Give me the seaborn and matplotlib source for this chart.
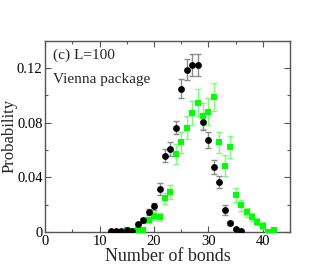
import numpy as np
import matplotlib
matplotlib.use('Agg')
import matplotlib.pyplot as plt
import seaborn as sns
from matplotlib.ticker import MultipleLocator

# %%
# Black circles
black_x = [12, 13, 14, 15, 16, 17, 18, 19, 20, 21, 22, 23, 24, 25, 26, 27, 28,
           29, 30, 31, 32, 33, 34, 35, 36]
black_p = [0.0005, 0.0005, 0.0005, 0.0012, 0.0005, 0.0056, 0.0083, 0.0145, 0.0188,
           0.0314, 0.0557, 0.0608, 0.0765, 0.105, 0.119, 0.1223, 0.1226,
           0.0808, 0.0672, 0.0476, 0.0365, 0.0163, 0.0064, 0.002, 0.0008]
black_err = [0.0003, 0.0003, 0.0003, 0.0005, 0.0003, 0.0012, 0.0015, 0.002, 0.0025,
             0.0042, 0.0047, 0.005, 0.0048, 0.0071, 0.008, 0.008, 0.008,
             0.006, 0.0057, 0.0054, 0.0044, 0.0037, 0.0012, 0.0006, 0.0004]

# Green squares
green_x = [15, 16, 17, 18, 19, 20, 21, 22, 23, 24, 25, 26, 27, 28, 29, 30, 31,
           32, 33, 34, 35, 36, 37, 38, 39, 40, 41, 42]
green_p = [0.0012, 0.0008, 0.0012, 0.0013, 0.0088, 0.0118, 0.0106, 0.0245, 0.0292,
           0.0571, 0.0657, 0.0765, 0.0873, 0.0947, 0.0849, 0.0881, 0.0989,
           0.0657, 0.0484, 0.0623, 0.027, 0.0194, 0.0143, 0.0106, 0.0074,
           0.0044, 0.0002, 0.001]
green_err = [0.0006, 0.0005, 0.0006, 0.0006, 0.002, 0.003, 0.003, 0.0042, 0.0052,
             0.0074, 0.0078, 0.0083, 0.0088, 0.0098, 0.0093, 0.0098, 0.0103,
             0.0078, 0.0076, 0.0083, 0.0049, 0.004, 0.0034, 0.003, 0.0025,
             0.0025, 0.0008, 0.0008]

x_ticks = [0, 10, 20, 30, 40]
y_ticks = [0, 0.04, 0.08, 0.12]
y_ticklabels = ['0', '0.04', '0.08', '0.12']

# %%
sns.set_theme(style='ticks')
plt.rcParams['font.family'] = ['Liberation Serif', 'DejaVu Serif']

fig = plt.figure(figsize=(3.27, 2.73), dpi=100)
ax = fig.add_axes([0.1385, 0.151, 0.7485, 0.699])

# error bars first, markers on top
ax.errorbar(green_x, green_p, yerr=green_err, fmt='none', ecolor='#7dff7d',
            elinewidth=1.0, capsize=2.5, capthick=1.0, zorder=2)
ax.errorbar(black_x, black_p, yerr=black_err, fmt='none', ecolor='#8c8c8c',
            elinewidth=1.0, capsize=2.5, capthick=1.0, zorder=2)
sns.scatterplot(x=green_x, y=green_p, ax=ax, marker='s', s=20, color='#00ff00',
                edgecolor='#00ff00', linewidth=0, zorder=3)
sns.scatterplot(x=black_x, y=black_p, ax=ax, marker='o', s=24, color='black',
                edgecolor='black', linewidth=0, zorder=4)

ax.set_xlim(0, 45)
ax.set_ylim(0, 0.14)
ax.set_xticks(x_ticks)
ax.set_xticklabels([str(t) for t in x_ticks])
ax.set_yticks(y_ticks)
ax.set_yticklabels(y_ticklabels)
ax.xaxis.set_minor_locator(MultipleLocator(5))
ax.yaxis.set_minor_locator(MultipleLocator(0.02))

ax.tick_params(which='both', direction='in', top=True, right=True,
               labelsize=10.5, colors='#555555', labelcolor='black', pad=2)
ax.tick_params(which='major', length=4, width=0.8)
ax.tick_params(which='minor', length=2.5, width=0.8)
for s in ax.spines.values():
    s.set_color('#555555')
    s.set_linewidth(1.0)

ax.set_xlabel('Number of bonds', fontsize=13, labelpad=0)
ax.set_ylabel('Probability', fontsize=12)
ax.yaxis.set_label_coords(-0.115, 0.5)

ax.text(0.03, 0.96, '(c) L=100', transform=ax.transAxes, fontsize=11,
        va='top', ha='left')
ax.text(0.03, 0.83, 'Vienna package', transform=ax.transAxes, fontsize=11,
        va='top', ha='left')

fig.savefig('out.png', dpi=100)
